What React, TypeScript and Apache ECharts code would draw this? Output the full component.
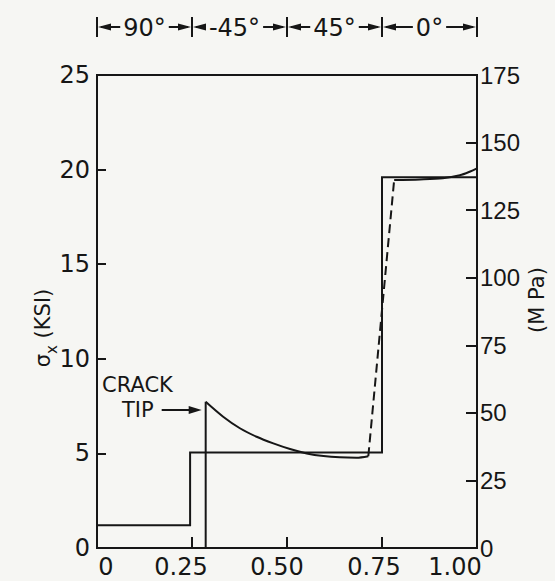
import React, { useEffect, useRef } from "react";
import * as echarts from "echarts";

// x axis: normalized distance
const xTicks = [0, 0.25, 0.5, 0.75, 1.0];
const xTickLabels = ["0", "0.25", "0.50", "0.75", "1.00"];
// laminate stacking step (solid, ksi)
const stepX = [0, 0.245, 0.245, 0.75, 0.75, 1.0];
const stepY = [1.2, 1.2, 5.05, 5.05, 19.6, 19.6];
// crack tip vertical
const tipX = [0.286, 0.286];
const tipY = [0, 7.73];
// decaying stress after crack tip
const decayX = [0.286, 0.332, 0.376, 0.42, 0.464, 0.508, 0.552, 0.596, 0.639, 0.683, 0.714];
const decayY = [7.73, 6.94, 6.33, 5.88, 5.53, 5.23, 5.0, 4.86, 4.79, 4.77, 4.85];
// dashed transition
const dashX = [0.714, 0.782];
const dashY = [4.85, 19.45];
// upper curve in 0° ply
const upperX = [0.782, 0.85, 0.91, 0.955, 0.982, 1.0];
const upperY = [19.45, 19.48, 19.54, 19.7, 19.9, 20.07];
// ply orientation bands
const plyBounds = [0, 0.25, 0.5, 0.75, 1.0];
const plyLabels = ["90°", "-45°", "45°", "0°"];

const pairs = (xs: number[], ys: number[]) => xs.map((x, i) => [x, ys[i]]);

export default function App() {
  const ref = useRef<HTMLDivElement>(null);

  useEffect(() => {
    const el = ref.current!;
    const chart = echarts.init(el, null, { renderer: "svg" });
    const ink = "#161616";
    const font = "DejaVu Sans";
    const font2 = "Liberation Sans";
    // horizontal label shifts (px) for x tick labels
    const xShift = [9, -11, -10, -8, -22];

    const lineSeries = (data: number[][], extra: any = {}) => ({
      type: "line",
      data,
      symbol: "none",
      silent: true,
      lineStyle: { color: ink, width: 2, join: "miter" },
      ...extra,
    });

    const option: any = {
      animation: false,
      backgroundColor: "#f6f6f3",
      textStyle: { fontFamily: font },
      grid: {
        left: 97,
        right: 78,
        top: 75,
        bottom: 33,
        show: true,
        borderColor: ink,
        borderWidth: 2,
        backgroundColor: "transparent",
      },
      xAxis: {
        type: "value",
        min: 0,
        max: 1,
        interval: 0.25,
        axisLine: { show: true, lineStyle: { color: ink, width: 2 } },
        axisTick: { show: true, inside: true, length: 11, lineStyle: { color: ink, width: 2 } },
        splitLine: { show: false },
        axisLabel: {
          fontSize: 24,
          color: ink,
          fontFamily: font,
          margin: 7,
          formatter: (v: number) => {
            const i = xTicks.findIndex((t) => Math.abs(t - v) < 1e-6);
            if (i < 0) return "";
            return `{p${i}|${xTickLabels[i]}}`;
          },
          rich: Object.fromEntries(
            xTicks.map((_, i) => {
              const s = xShift[i];
              const pad = s >= 0 ? [0, 0, 0, 2 * s] : [0, -2 * s, 0, 0];
              return [`p${i}`, { fontSize: 24, color: ink, fontFamily: font, padding: pad }];
            })
          ),
        },
      },
      yAxis: [
        {
          type: "value",
          min: 0,
          max: 25,
          interval: 5,
          position: "left",
          axisLine: { show: true, lineStyle: { color: ink, width: 2 } },
          axisTick: { show: true, inside: true, length: 9, lineStyle: { color: ink, width: 2 } },
          splitLine: { show: false },
          axisLabel: { fontSize: 24, color: ink, fontFamily: font, margin: 7 },
        },
        {
          type: "value",
          min: 0,
          max: 175,
          interval: 25,
          position: "right",
          axisLine: { show: true, lineStyle: { color: ink, width: 2 } },
          axisTick: { show: true, inside: true, length: 11, lineStyle: { color: ink, width: 2 } },
          splitLine: { show: false },
          axisLabel: { fontSize: 24, color: ink, fontFamily: font2, margin: 3 },
        },
      ],
      series: [
        lineSeries(pairs(stepX, stepY)),
        lineSeries(pairs(tipX, tipY)),
        lineSeries(pairs(decayX, decayY), { smooth: 0.3 }),
        lineSeries(pairs(dashX, dashY), {
          lineStyle: { color: ink, width: 2, type: [9, 5] },
        }),
        lineSeries(pairs(upperX, upperY), { smooth: 0.3 }),
      ],
    };

    chart.setOption(option);

    const px = (x: number, y: number) =>
      chart.convertToPixel({ xAxisIndex: 0, yAxisIndex: 0 }, [x, y]) as number[];

    const ctx = document.createElement("canvas").getContext("2d")!;
    ctx.font = `24px "${font}"`;
    const measure = (s: string) => ctx.measureText(s).width;

    const g: any[] = [];
    const topY = 27;
    const lw = 2;
    // bars at ply boundaries
    plyBounds.forEach((b) => {
      const x = px(b, 0)[0];
      g.push({
        type: "line",
        shape: { x1: x, y1: topY - 10, x2: x, y2: topY + 10 },
        style: { stroke: ink, lineWidth: lw },
      });
    });
    plyLabels.forEach((lab, i) => {
      const a = px(plyBounds[i], 0)[0];
      const b = px(plyBounds[i + 1], 0)[0];
      const cx = (a + b) / 2 + (i === 1 ? -5 : 0);
      const w = measure(lab);
      const tl = cx - w / 2;
      const tr = cx + w / 2;
      g.push({
        type: "text",
        x: cx,
        y: topY + 1,
        style: { text: lab, fontSize: 24, fontFamily: font, fill: ink, align: "center", verticalAlign: "middle" },
      });
      // left arrow (pointing to bar a)
      g.push({
        type: "line",
        shape: { x1: a + 4, y1: topY, x2: tl - 3, y2: topY },
        style: { stroke: ink, lineWidth: lw },
      });
      g.push({
        type: "polygon",
        shape: { points: [[a + 1, topY], [a + 14, topY - 3.5], [a + 14, topY + 3.5]] },
        style: { fill: ink },
      });
      // right arrow (pointing to bar b)
      g.push({
        type: "line",
        shape: { x1: tr + 3, y1: topY, x2: b - 4, y2: topY },
        style: { stroke: ink, lineWidth: lw },
      });
      g.push({
        type: "polygon",
        shape: { points: [[b - 1, topY], [b - 14, topY - 3.5], [b - 14, topY + 3.5]] },
        style: { fill: ink },
      });
    });

    // crack tip annotation
    const tp = px(tipX[0], 7.3);
    const head = tp[0] - 4;
    const tail = tp[0] - 44;
    g.push({
      type: "line",
      shape: { x1: tail, y1: tp[1], x2: head - 8, y2: tp[1] },
      style: { stroke: ink, lineWidth: lw },
    });
    g.push({
      type: "polygon",
      shape: { points: [[head, tp[1]], [head - 13, tp[1] - 4], [head - 13, tp[1] + 4]] },
      style: { fill: ink },
    });
    g.push({
      type: "text",
      x: tail - 8,
      y: tp[1],
      style: { text: "TIP", fontSize: 21, fontFamily: font, fill: ink, align: "right", verticalAlign: "middle" },
    });
    g.push({
      type: "text",
      x: 102,
      y: tp[1] - 25,
      style: { text: "CRACK", fontSize: 21, fontFamily: font, fill: ink, align: "left", verticalAlign: "middle" },
    });

    // axis names
    g.push({
      type: "text",
      x: 40,
      y: 328,
      rotation: Math.PI / 2,
      style: {
        text: "{a|σ}{b|x}{a| (KSI)}",
        align: "center",
        verticalAlign: "middle",
        fill: ink,
        rich: {
          a: { fontSize: 21, fontFamily: font, fill: ink, verticalAlign: "bottom", lineHeight: 26 },
          b: { fontSize: 15, fontFamily: font, fill: ink, verticalAlign: "bottom", lineHeight: 26, padding: [0, 0, -6, 0] },
        },
      },
    });
    g.push({
      type: "text",
      x: 537,
      y: 300,
      rotation: Math.PI / 2,
      style: { text: "(M Pa)", fontSize: 21, fontFamily: font, fill: ink, align: "center", verticalAlign: "middle" },
    });

    chart.setOption({ graphic: g });

    return () => chart.dispose();
  }, []);

  return (
    <div
      ref={ref}
      style={{ position: "absolute", left: 0, top: 0, width: 555, height: 581 }}
    />
  );
}
